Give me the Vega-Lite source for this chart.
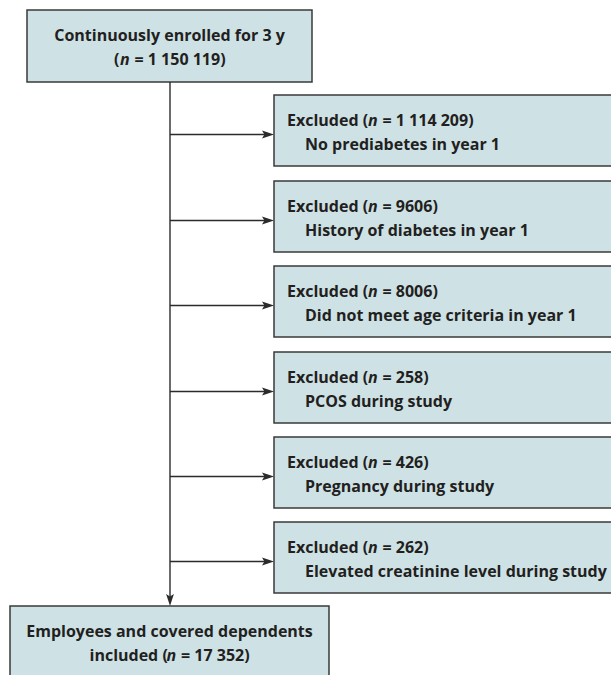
{
  "$schema": "https://vega.github.io/schema/vega-lite/v6.json",
  "width": 611,
  "height": 675,
  "autosize": {"type": "none"},
  "padding": 0,
  "background": "white",
  "config": {"view": {"stroke": null}},
  "datasets": {
    "boxes": [
      {"id": "start", "x0": 27, "x1": 312, "y0": 10, "y1": 82},
      {"id": "ex1", "x0": 274, "x1": 620, "y0": 95, "y1": 166},
      {"id": "ex2", "x0": 274, "x1": 620, "y0": 181, "y1": 252},
      {"id": "ex3", "x0": 274, "x1": 620, "y0": 266, "y1": 337},
      {"id": "ex4", "x0": 274, "x1": 620, "y0": 352, "y1": 423},
      {"id": "ex5", "x0": 274, "x1": 620, "y0": 437, "y1": 508},
      {"id": "ex6", "x0": 274, "x1": 620, "y0": 522, "y1": 593},
      {"id": "end", "x0": 10, "x1": 329, "y0": 606, "y1": 690}
    ],
    "links": [
      {"x0": 170, "y0": 82, "x1": 170, "y1": 600},
      {"x0": 170, "y0": 134.5, "x1": 268, "y1": 134.5},
      {"x0": 170, "y0": 220.5, "x1": 268, "y1": 220.5},
      {"x0": 170, "y0": 305.5, "x1": 268, "y1": 305.5},
      {"x0": 170, "y0": 391.5, "x1": 268, "y1": 391.5},
      {"x0": 170, "y0": 476.5, "x1": 268, "y1": 476.5},
      {"x0": 170, "y0": 561.5, "x1": 268, "y1": 561.5}
    ],
    "heads": [
      {"x": 274, "y": 134.5, "dir": "right"},
      {"x": 274, "y": 220.5, "dir": "right"},
      {"x": 274, "y": 305.5, "dir": "right"},
      {"x": 274, "y": 391.5, "dir": "right"},
      {"x": 274, "y": 476.5, "dir": "right"},
      {"x": 274, "y": 561.5, "dir": "right"},
      {"x": 170, "y": 606, "dir": "down"}
    ],
    "centered": [
      {"x": 169.5, "y": 41, "t": "Continuously enrolled for 3 y"},
      {"x": 169.5, "y": 637, "t": "Employees and covered dependents"}
    ],
    "segments": [
      {"x": 114, "y": 65, "t": "("},
      {"x": 134.5, "y": 65, "t": "= 1 150 119)"},
      {"x": 89.5, "y": 661, "t": "included ("},
      {"x": 181, "y": 661, "t": "= 17 352)"},
      {"x": 287, "y": 126, "t": "Excluded ("},
      {"x": 382.5, "y": 126, "t": "= 1 114 209)"},
      {"x": 305, "y": 150, "t": "No prediabetes in year 1"},
      {"x": 287, "y": 212, "t": "Excluded ("},
      {"x": 382.5, "y": 212, "t": "= 9606)"},
      {"x": 305, "y": 236, "t": "History of diabetes in year 1"},
      {"x": 287, "y": 297, "t": "Excluded ("},
      {"x": 382.5, "y": 297, "t": "= 8006)"},
      {"x": 305, "y": 321, "t": "Did not meet age criteria in year 1"},
      {"x": 287, "y": 383, "t": "Excluded ("},
      {"x": 382.5, "y": 383, "t": "= 258)"},
      {"x": 305, "y": 407, "t": "PCOS during study"},
      {"x": 287, "y": 468, "t": "Excluded ("},
      {"x": 382.5, "y": 468, "t": "= 426)"},
      {"x": 305, "y": 492, "t": "Pregnancy during study"},
      {"x": 287, "y": 553, "t": "Excluded ("},
      {"x": 382.5, "y": 553, "t": "= 262)"},
      {"x": 305, "y": 577, "t": "Elevated creatinine level during study"}
    ],
    "italics": [
      {"x": 120, "y": 65, "t": "n"},
      {"x": 166.5, "y": 661, "t": "n"},
      {"x": 368, "y": 126, "t": "n"},
      {"x": 368, "y": 212, "t": "n"},
      {"x": 368, "y": 297, "t": "n"},
      {"x": 368, "y": 383, "t": "n"},
      {"x": 368, "y": 468, "t": "n"},
      {"x": 368, "y": 553, "t": "n"}
    ]
  },
  "resolve": {"scale": {"x": "shared", "y": "shared"}},
  "layer": [
    {
      "data": {"name": "boxes"},
      "mark": {"type": "rect", "fill": "#cee2e6", "stroke": "#3a3a3a", "strokeWidth": 1.5},
      "encoding": {
        "x": {"field": "x0", "type": "quantitative", "scale": {"domain": [0, 611], "nice": false, "zero": false}, "axis": null},
        "x2": {"field": "x1"},
        "y": {"field": "y0", "type": "quantitative", "scale": {"domain": [0, 675], "nice": false, "zero": false, "reverse": true}, "axis": null},
        "y2": {"field": "y1"}
      }
    },
    {
      "data": {"name": "links"},
      "mark": {"type": "rule", "stroke": "#2b2b2b", "strokeWidth": 1.4},
      "encoding": {
        "x": {"field": "x0", "type": "quantitative"},
        "x2": {"field": "x1"},
        "y": {"field": "y0", "type": "quantitative"},
        "y2": {"field": "y1"}
      }
    },
    {
      "data": {"name": "heads"},
      "mark": {"type": "point", "filled": true, "size": 144, "color": "#2b2b2b", "opacity": 1, "strokeWidth": 0},
      "encoding": {
        "x": {"field": "x", "type": "quantitative"},
        "y": {"field": "y", "type": "quantitative"},
        "shape": {
          "field": "dir",
          "type": "nominal",
          "scale": {"domain": ["right", "down"], "range": ["M0,0 L-2,-0.65 L-1.6,0 L-2,0.65 Z", "M0,0 L-0.65,-2 L0,-1.6 L0.65,-2 Z"]},
          "legend": null
        }
      }
    },
    {
      "data": {"name": "centered"},
      "mark": {"type": "text", "align": "center", "baseline": "alphabetic", "font": "Open Sans", "fontWeight": "bold", "fontSize": 16, "color": "#231f20"},
      "encoding": {
        "x": {"field": "x", "type": "quantitative"},
        "y": {"field": "y", "type": "quantitative"},
        "text": {"field": "t"}
      }
    },
    {
      "data": {"name": "segments"},
      "mark": {"type": "text", "align": "left", "baseline": "alphabetic", "font": "Open Sans", "fontWeight": "bold", "fontSize": 16, "color": "#231f20"},
      "encoding": {
        "x": {"field": "x", "type": "quantitative"},
        "y": {"field": "y", "type": "quantitative"},
        "text": {"field": "t"}
      }
    },
    {
      "data": {"name": "italics"},
      "mark": {"type": "text", "align": "left", "baseline": "alphabetic", "font": "Open Sans", "fontWeight": "bold", "fontStyle": "italic", "fontSize": 16, "color": "#231f20"},
      "encoding": {
        "x": {"field": "x", "type": "quantitative"},
        "y": {"field": "y", "type": "quantitative"},
        "text": {"field": "t"}
      }
    }
  ]
}
